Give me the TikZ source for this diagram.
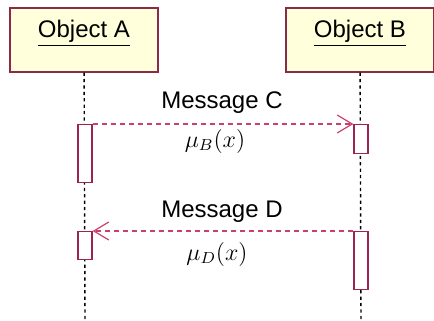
\documentclass[tikz,border=0pt]{standalone}
\usepackage[no-math]{fontspec}
\setmainfont{Liberation Sans}
\usetikzlibrary{arrows.meta}
\definecolor{objfill}{HTML}{FFFFDC}
\definecolor{objline}{HTML}{8A2A48}
\definecolor{actline}{HTML}{9A2452}
\definecolor{msgline}{HTML}{C8406E}

\begin{document}
\begin{tikzpicture}[x=0.5pt,y=-0.5pt,
    font=\fontsize{12}{14}\selectfont,
    object/.style={draw=objline,fill=objfill,line width=0.6pt,inner ysep=0pt,
        minimum width=74pt,text height=15pt,text depth=17pt},
    activation/.style={draw=actline,fill=white,line width=0.6pt,inner sep=0pt,
        minimum width=7pt,anchor=north},
    lifeline/.style={black,line width=0.7pt,dash pattern=on 1.6pt off 1.6pt},
    message/.style={msgline,line width=0.6pt,dash pattern=on 2.5pt off 2pt,
        -{Straight Barb[length=7.5pt,width=9pt]}},
    ]
    \useasboundingbox (0,0) rectangle (434,321);

    % Objects
    \node[object] (objA) at (84,40) {\underline{Object A}};
    \node[object] (objB) at (360,40) {\underline{Object B}};
    \coordinate (endA) at (85,321);
    \coordinate (endB) at (361,321);

    % Lifelines
    \draw[lifeline] (objA) -- (endA);
    \draw[lifeline] (objB) -- (endB);

    % Activations
    \node[activation,minimum height=29pt] (actA1) at (85,124) {};
    \node[activation,minimum height=14.5pt] (actB1) at (361,124) {};
    \node[activation,minimum height=14pt] (actA2) at (85,231) {};
    \node[activation,minimum height=29pt] (actB2) at (361,231) {};

    % Messages
    \draw[message] (actA1.north east) -- (actB1.north west);
    \draw[message] (actB2.north west) -- (actA2.north east);
    \node[anchor=base] (msgC) at (222,108) {Message C};
    \node[anchor=base] (muB) at (215,147) {$\mu_B(x)$};
    \node[anchor=base] (msgD) at (222,217) {Message D};
    \node[anchor=base] (muD) at (217,260) {$\mu_D(x)$};
\end{tikzpicture}
\end{document}
